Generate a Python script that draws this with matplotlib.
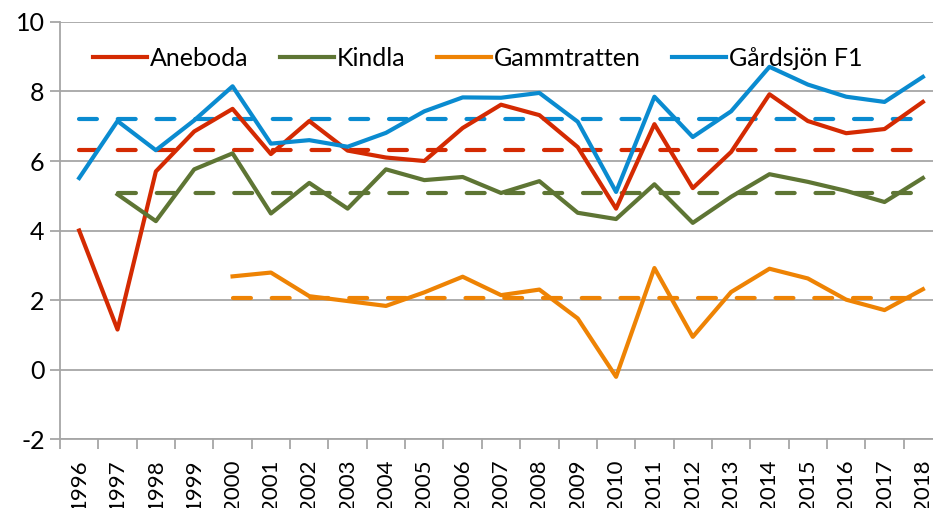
import numpy as np
import matplotlib.pyplot as plt

plt.rcParams['font.family'] = ['Lato', 'DejaVu Sans']

years = [str(y) for y in range(1996, 2019)]
nan = np.nan

# values
aneboda = [4.0, 1.15, 5.7, 6.85, 7.5, 6.2, 7.15, 6.3, 6.1, 6.0, 6.95, 7.62, 7.32,
           6.4, 4.63, 7.06, 5.22, 6.26, 7.92, 7.15, 6.8, 6.92, 7.7]
kindla = [nan, 5.04, 4.27, 5.76, 6.22, 4.49, 5.37, 4.63, 5.76, 5.45, 5.54, 5.08, 5.42,
          4.51, 4.33, 5.33, 4.22, 4.97, 5.62, 5.4, 5.14, 4.82, 5.51]
gammtratten = [nan, nan, nan, nan, 2.68, 2.79, 2.11, 1.97, 1.83, 2.22, 2.67, 2.14, 2.3,
               1.47, -0.21, 2.92, 0.94, 2.23, 2.9, 2.62, 2.01, 1.71, 2.31]
gardsjon = [5.51, 7.15, 6.31, 7.17, 8.15, 6.5, 6.6, 6.41, 6.81, 7.43, 7.83, 7.82, 7.96,
            7.13, 5.11, 7.85, 6.69, 7.43, 8.71, 8.2, 7.85, 7.7, 8.42]

names = ['Aneboda', 'Kindla', 'Gammtratten', 'Gårdsjön F1']
series = [aneboda, kindla, gammtratten, gardsjon]
means = [6.31, 5.09, 2.07, 7.21]
colors = ['#d42a02', '#5e7534', '#ee8304', '#0a8bd0']

fig = plt.figure(figsize=(9.33, 5.08), dpi=100)
ax = fig.add_axes([0.0643, 0.1358, 0.9454, 0.8209])

x = np.arange(len(years))
for name, vals, m, c in zip(names, series, means, colors):
    v = np.array(vals, dtype=float)
    ax.plot(x, v, color=c, lw=3.0, label=name, zorder=3)
    mline = np.where(np.isnan(v), np.nan, m)
    ax.plot(x, mline, color=c, lw=3.0, dashes=(4.3, 5.0),
            dash_capstyle='round', zorder=2)

ax.set_xlim(-0.5, len(years) - 0.5)
ax.set_ylim(-2, 10)
ax.set_yticks(np.arange(-2, 11, 2))
ax.set_yticklabels([str(v) for v in range(-2, 11, 2)])
ax.yaxis.grid(True, color='#a6a6a6', lw=1.3, zorder=0)
ax.set_axisbelow(True)

ax.set_xticks(x)
ax.set_xticklabels(years, rotation=90, va='top', ha='center')
ax.set_xticks(np.arange(-0.5, len(years), 1), minor=True)
ax.tick_params(axis='x', which='major', length=0, pad=15, labelsize=16)
ax.tick_params(axis='x', which='minor', length=7, width=1.3, color='#a6a6a6')
ax.tick_params(axis='y', length=7, width=1.3, color='#a6a6a6', labelsize=18, pad=4)

for s in ['top', 'right']:
    ax.spines[s].set_visible(False)
for s in ['left', 'bottom']:
    ax.spines[s].set_color('#a6a6a6')
    ax.spines[s].set_linewidth(1.3)

ax.legend(loc='upper left', bbox_to_anchor=(0.012, 0.995), ncol=4, frameon=False,
          fontsize=18, handlelength=2.16, handletextpad=0.12, columnspacing=1.25)

fig.savefig('out.png', dpi=100)
